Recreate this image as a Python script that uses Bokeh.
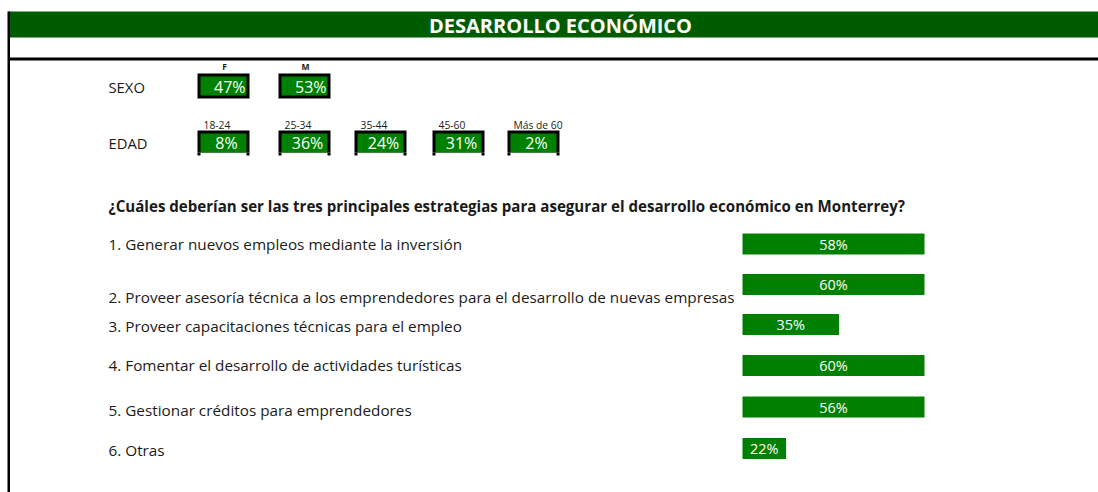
from bokeh.plotting import figure
from bokeh.models import Range1d, ColumnDataSource
from bokeh.core.properties import value
from bokeh.embed import file_html
from bokeh.resources import INLINE

# ---------------- data ----------------
title = "DESARROLLO ECONÓMICO"
sexo_labels = ["F", "M"]
sexo_values = [47, 53]
edad_labels = ["18-24", "25-34", "35-44", "45-60", "Más de 60"]
edad_values = [8, 36, 24, 31, 2]
question = "¿Cuáles deberían ser las tres principales estrategias para asegurar el desarrollo económico en Monterrey?"
items = [
    "1. Generar nuevos empleos mediante la inversión",
    "2. Proveer asesoría técnica a los emprendedores para el desarrollo de nuevas empresas",
    "3. Proveer capacitaciones técnicas para el empleo",
    "4. Fomentar el desarrollo de actividades turísticas",
    "5. Gestionar créditos para emprendedores",
    "6. Otras",
]
item_values = [58, 60, 35, 60, 56, 22]

# ---------------- layout (page pixels) ----------------
FONT = "Open Sans"
W, H = 1098, 492
GREEN = "#008000"
DARK = "#005c00"

sexo_x0 = [197, 278]
box_w = 52
edad_x0 = [197, 278, 354, 432, 507]
item_text_y = [243, 296, 325, 364, 409, 449]
bar_y = [243.5, 284, 324, 365, 406.5, 448]
bar_h = 21

# bar scale: percent axis mapped onto the page; bars start at the cell edge
bar_left_px, bar_cell_px = 742, 182
v0, vcap = 11.3, 56.0
k = bar_cell_px / (vcap - v0)
pct_start = v0 - bar_left_px / k
pct_end = pct_start + W / k

p = figure(width=W, height=H, output_backend="svg", toolbar_location=None,
           x_range=Range1d(0, W), y_range=Range1d(H, 0),
           min_border=0, outline_line_color=None)
p.axis.visible = False
p.grid.visible = False
p.extra_x_ranges = {"pct": Range1d(pct_start, pct_end)}

def txt(x, y, t, size, bold=False, color="#1a1a1a", align="left"):
    p.text(x=[x], y=[y], text=[t], text_font=value(FONT), text_font_size=size,
           text_font_style="bold" if bold else "normal", text_color=color,
           text_align=align, text_baseline="middle")

# header
p.quad(left=[8], right=[W], top=[11], bottom=[37], fill_color=DARK, line_color=None)
txt(560, 24.5, title, "20px", bold=True, color="white", align="center")
p.quad(left=[8], right=[W], top=[57], bottom=[60], fill_color="black", line_color=None)
p.quad(left=[7], right=[9.5], top=[11], bottom=[H], fill_color="black", line_color=None)

# SEXO
txt(108, 86, "SEXO", "14.8px")
for x0, lab, v in zip(sexo_x0, sexo_labels, sexo_values):
    p.quad(left=[x0], right=[x0 + box_w], top=[73], bottom=[98], fill_color="black", line_color=None)
    p.quad(left=[x0 + 3], right=[x0 + box_w - 3], top=[76], bottom=[95], fill_color=GREEN, line_color=None)
    txt(x0 + box_w / 2 + 1, 66, lab, "8.5px", bold=True, align="center")
    txt(x0 + box_w - 4, 86, f"{v}%", "16px", color="white", align="right")

# EDAD
txt(108, 142, "EDAD", "14.8px")
for x0, lab, v in zip(edad_x0, edad_labels, edad_values):
    p.quad(left=[x0], right=[x0 + box_w], top=[130], bottom=[152], fill_color="black", line_color=None)
    p.quad(left=[x0 + 3], right=[x0 + box_w - 3], top=[133], bottom=[152], fill_color=GREEN, line_color=None)
    p.quad(left=[x0, x0 + box_w - 3], right=[x0 + 3, x0 + box_w], top=[152, 152], bottom=[155, 155],
           fill_color="black", line_color=None)
    txt(x0 + 6, 124, lab, "10.3px")
    txt(x0 + box_w / 2 + 3, 142, f"{v}%", "16px", color="white", align="center")

# question + items
txt(108, 205, question, "15.1px", bold=True)
for y, t in zip(item_text_y, items):
    txt(108, y, t, "15.3px")

bar_right = [min(v, vcap) for v in item_values]
src = ColumnDataSource(dict(y=bar_y, left=[v0] * len(item_values), right=bar_right,
                            mid=[(v0 + r) / 2 for r in bar_right],
                            lab=[f"{v}%" for v in item_values]))
p.hbar(y="y", left="left", right="right", height=bar_h, source=src,
       fill_color=GREEN, line_color=None, x_range_name="pct")
p.text(x="mid", y="y", text="lab", source=src, x_range_name="pct",
       text_font=value(FONT), text_font_size="14.5px", text_color="white",
       text_align="center", text_baseline="middle")

open("out.html", "w").write(file_html(p, INLINE))
